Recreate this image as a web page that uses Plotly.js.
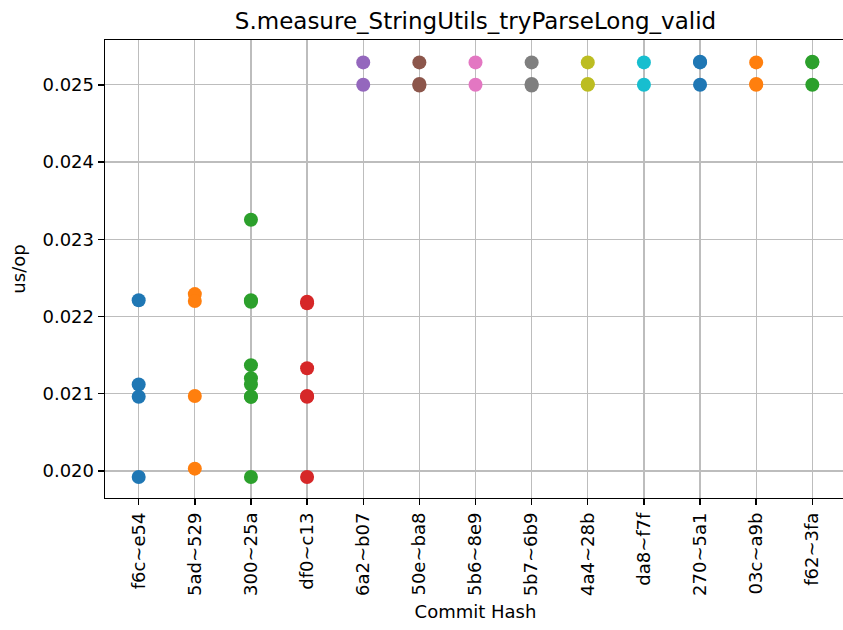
<!DOCTYPE html>
<html>
<head>
<meta charset="utf-8">
<script src="https://cdn.plot.ly/plotly-3.0.1.min.js"></script>
<style>
  html, body { margin: 0; padding: 0; overflow: hidden; background: #fff; }
  #chart { width: 850px; height: 630px; }
</style>
</head>
<body>
<div id="chart"></div>
<script>
// Commit hashes (x categories)
const commits = ["f6c~e54", "5ad~529", "300~25a", "df0~c13", "6a2~b07", "50e~ba8", "5b6~8e9",
                 "5b7~6b9", "4a4~28b", "da8~f7f", "270~5a1", "03c~a9b", "f62~3fa"];

// us/op measurements per commit
const f6c_e54 = [0.02221, 0.02112, 0.02096, 0.019922];
const ad5_529 = [0.02229, 0.02220, 0.02097, 0.02003];
const c300_25a = [0.023252, 0.02221, 0.02219, 0.02137, 0.02120, 0.02112, 0.02096, 0.02096, 0.019922];
const df0_c13 = [0.02219, 0.02217, 0.02133, 0.02097, 0.02096, 0.019922];
const a6a2_b07 = [0.02529, 0.02500];
const c50e_ba8 = [0.02529, 0.02501, 0.02499];
const b5b6_8e9 = [0.02529, 0.02500];
const b5b7_6b9 = [0.02529, 0.02501, 0.02499];
const a4a4_28b = [0.02529, 0.02501, 0.02500];
const da8_f7f = [0.02529, 0.02500];
const c270_5a1 = [0.02530, 0.02529, 0.02500];
const c03c_a9b = [0.02529, 0.02501, 0.02500];
const f62_3fa = [0.02530, 0.02529, 0.02500];

const seriesValues = [f6c_e54, ad5_529, c300_25a, df0_c13, a6a2_b07, c50e_ba8, b5b6_8e9,
                      b5b7_6b9, a4a4_28b, da8_f7f, c270_5a1, c03c_a9b, f62_3fa];

const palette = ["#1f77b4", "#ff7f0e", "#2ca02c", "#d62728", "#9467bd", "#8c564b",
                 "#e377c2", "#7f7f7f", "#bcbd22", "#17becf"];

const yTicks = [0.020, 0.021, 0.022, 0.023, 0.024, 0.025];

const traces = commits.map((c, i) => ({
  type: "scatter",
  mode: "markers",
  x: seriesValues[i].map(() => c),
  y: seriesValues[i],
  marker: { color: palette[i % palette.length], size: 14 },
  showlegend: false,
  hoverinfo: "x+y"
}));

const font = { family: "DejaVu Sans, sans-serif", color: "#000" };

const layout = {
  width: 850,
  height: 630,
  margin: { l: 105, r: 4, t: 40, b: 132 },
  paper_bgcolor: "#fff",
  plot_bgcolor: "#fff",
  font: Object.assign({ size: 18 }, font),
  title: {
    text: "S.measure_StringUtils_tryParseLong_valid",
    font: Object.assign({ size: 23 }, font),
    x: 0.5, xref: "paper", xanchor: "center",
    y: 1, yref: "paper", yanchor: "bottom",
    pad: { b: 11 }
  },
  xaxis: {
    type: "category",
    categoryorder: "array",
    categoryarray: commits,
    range: [-0.6, 12.6],
    tickangle: -90,
    ticks: "outside",
    ticklen: 6,
    tickwidth: 1.4,
    tickcolor: "#000",
    showline: true,
    linecolor: "#000",
    linewidth: 1.4,
    mirror: true,
    showgrid: true,
    gridcolor: "#bdbdbd",
    gridwidth: 1.3,
    zeroline: false,
    tickfont: Object.assign({ size: 18 }, font),
    title: { text: "Commit Hash", font: Object.assign({ size: 18 }, font), standoff: 10 },
    automargin: false
  },
  yaxis: {
    range: [0.01965, 0.02558],
    tickvals: yTicks,
    ticktext: yTicks.map(v => v.toFixed(3)),
    ticks: "outside",
    ticklen: 6,
    tickwidth: 1.4,
    tickcolor: "#000",
    showline: true,
    linecolor: "#000",
    linewidth: 1.4,
    mirror: true,
    showgrid: true,
    gridcolor: "#bdbdbd",
    gridwidth: 1.3,
    zeroline: false,
    tickfont: Object.assign({ size: 18 }, font),
    title: { text: "us/op", font: Object.assign({ size: 18 }, font), standoff: 12 },
    automargin: false
  }
};

Plotly.newPlot("chart", traces, layout, { displayModeBar: false, staticPlot: true });
</script>
</body>
</html>
